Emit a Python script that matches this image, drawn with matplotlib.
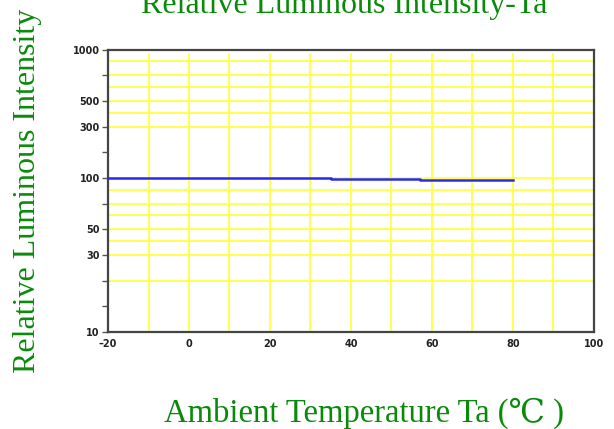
import numpy as np
import matplotlib
matplotlib.use('Agg')
import matplotlib.pyplot as plt

# Datos de la curva (Ta en grados C, intensidad relativa)
temperatura = [-20, 35, 57, 72, 80]
intensidad = [100, 99, 98, 97, 97]

# Eje y del original: etiquetas no logaritmicas, cada una en su marca
y_valores = [10, 30, 50, 100, 300, 500, 1000]
y_etiquetas = ['10', '30', '50', '100', '300', '500', '1000']
y_marca = [0, 3, 4, 6, 8, 9, 11]
x_ticks = [-20, 0, 20, 40, 60, 80, 100]
x_etiquetas = ['\u201320', '0', '20', '40', '60', '80', '100']


def fwd(v):
    v = np.clip(np.asarray(v, dtype=float), 1e-6, None)
    return np.interp(np.log10(v), np.log10(y_valores), y_marca)


def inv(p):
    return 10 ** np.interp(p, y_marca, np.log10(y_valores))


verde = '#0a8a0a'
serif = ['Liberation Serif', 'DejaVu Serif', 'Noto Sans CJK SC']

fig = plt.figure(figsize=(6.14, 4.29), dpi=100)
ax = fig.add_axes([0.176, 0.226, 0.791, 0.658])
ax.set_yscale('function', functions=(fwd, inv))
ax.set_xlim(-20, 100)
ax.set_ylim(10, 1000)

# Rejilla amarilla
for x in range(-10, 100, 10):
    ax.axvline(x, ymax=0.986, color='#ffff44', lw=1.3, zorder=1)
for p in [2, 3, 3.55, 4, 4.55, 5, 5.55, 6, 8, 8.55, 9, 9.55, 10, 10.55]:
    ax.axhline(inv(p), color='#ffff44', lw=1.3, zorder=1)

# Curva
ax.plot(temperatura, intensidad, drawstyle='steps-post', color='#2a2aee', lw=1.8, zorder=3)

ax.set_yticks(y_valores)
ax.set_yticklabels(y_etiquetas)
ax.set_yticks(inv([1, 2, 5, 7, 10]), minor=True)
ax.set_xticks(x_ticks)
ax.set_xticklabels(x_etiquetas)
ax.tick_params(axis='y', which='both', direction='out', length=4, width=1,
               color='#555555', pad=2, labelsize=7, labelcolor='#222222')
ax.tick_params(axis='x', length=0, pad=5, labelsize=7, labelcolor='#222222')
for lab in ax.get_xticklabels() + ax.get_yticklabels():
    lab.set_fontweight('bold')

for s in ax.spines.values():
    s.set_color('#444444')
    s.set_linewidth(1.6)

fig.text(0.56, 0.97, 'Relative Luminous Intensity-Ta', ha='center', va='baseline',
         color=verde, fontsize=23, family=serif)
fig.text(0.045, 0.555, 'Relative Luminous Intensity', ha='center', va='center',
         rotation=90, color=verde, fontsize=23, family=serif)
fig.text(0.593, 0.016, 'Ambient Temperature Ta (\u2103 )', ha='center', va='baseline',
         color=verde, fontsize=23.5, family=serif)

fig.savefig('out.png', dpi=100)
